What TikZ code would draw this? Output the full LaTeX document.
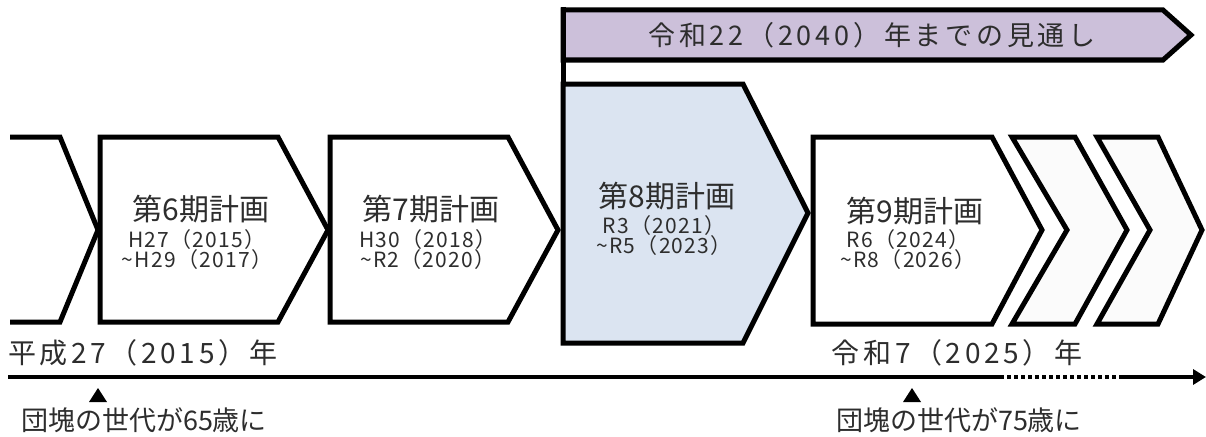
\documentclass[tikz,border=0pt]{standalone}
\usepackage{fontspec}
\setmainfont{Noto Sans CJK JP}
\newfontfamily\spaced[LetterSpace=13]{Noto Sans CJK JP}
\newfontfamily\barfont[LetterSpace=14]{Noto Sans CJK JP}
\newfontfamily\periodfont[LetterSpace=6]{Noto Sans CJK JP}
\usetikzlibrary{arrows.meta}
\definecolor{planblue}{RGB}{219,228,241}
\definecolor{outlook}{RGB}{204,192,218}
\definecolor{txt}{RGB}{45,45,45}

\begin{document}
\begin{tikzpicture}[x=1pt,y=-1pt]
        \tikzset{plan/.style = {draw=black, line width=5pt, fill=white}}
        \tikzset{title/.style = {text=txt, inner sep=0pt, font=\fontsize{30}{32}\selectfont}}
        \tikzset{period/.style = {text=txt, inner sep=0pt, align=center, font=\periodfont\fontsize{21}{20}\selectfont}}
        \tikzset{yearlabel/.style = {text=txt, inner sep=0pt, font=\spaced\fontsize{28}{30}\selectfont}}
        \tikzset{note/.style = {text=txt, inner sep=0pt, font=\fontsize{27}{29}\selectfont}}
        \useasboundingbox (0,0) rectangle (1206,436);

        % outlook bar
        \draw[plan, fill=outlook] (563,10) -- (1163,10) -- (1191,35) -- (1163,60) -- (563,60) -- cycle;
        \draw[line width=5pt] (563,7) -- (563,84);
        \node[text=txt, inner sep=0pt, font=\barfont\fontsize{27}{29}\selectfont] (outlook) at (872,35) {令和22（2040）年までの見通し};

        % earlier plan
        \draw[line width=5pt] (10,137) -- (60,137) -- (98,230) -- (60,322) -- (10,322);

        % plans
        \draw[plan] (100,137) -- (278,137) -- (328,230) -- (278,322) -- (100,322) -- cycle;
        \draw[plan] (330,137) -- (508,137) -- (558,230) -- (508,322) -- (330,322) -- cycle;
        \draw[plan, fill=planblue] (563,84) -- (743,84) -- (808,213) -- (743,343) -- (563,343) -- cycle;
        \draw[plan] (813,137) -- (992,137) -- (1042,230) -- (992,324) -- (813,324) -- cycle;

        % later plans
        \draw[plan, fill=gray!3] (1012,137) -- (1075,137) -- (1127,230) -- (1075,324) -- (1012,324) -- (1067,230) -- cycle;
        \draw[plan, fill=gray!3] (1097,137) -- (1158,137) -- (1202,230) -- (1158,324) -- (1097,324) -- (1150,230) -- cycle;

        % plan labels
        \node[title] (p6) at (201,209) {第6期計画};
        \node[period] (p6y) at (197,250) {H27（2015）\\\textasciitilde H29（2017）};
        \node[title] (p7) at (431,209) {第7期計画};
        \node[period] (p7y) at (428,250) {H30（2018）\\\textasciitilde R2（2020）};
        \node[title] (p8) at (667,196) {第8期計画};
        \node[period] (p8y) at (664,236) {R3（2021）\\\textasciitilde R5（2023）};
        \node[title] (p9) at (915,211) {第9期計画};
        \node[period] (p9y) at (908,250) {R6（2024）\\\textasciitilde R8（2026）};

        % time line
        \coordinate (t0) at (8,377);
        \coordinate (t1) at (1000,377);
        \coordinate (t2) at (1120,377);
        \coordinate (t3) at (1206,377);
        \draw[line width=4pt] (t0) -- (t1);
        \draw[line width=4pt, dash pattern=on 4pt off 3pt] (t1) -- (t2);
        \draw[line width=4pt, -{Triangle[length=13pt,width=15pt]}] (t2) -- (t3);

        % years
        \node[yearlabel, anchor=west] (h27) at (8,353) {平成27（2015）年};
        \node[yearlabel] (r7) at (957,353) {令和7（2025）年};

        % baby boomers
        \fill (89,402) -- (98,388) -- (107,402) -- cycle;
        \fill (903,402) -- (912,388) -- (921,402) -- cycle;
        \node[note] (age65) at (144,420) {団塊の世代が65歳に};
        \node[note] (age75) at (959,420) {団塊の世代が75歳に};
\end{tikzpicture}
\end{document}
